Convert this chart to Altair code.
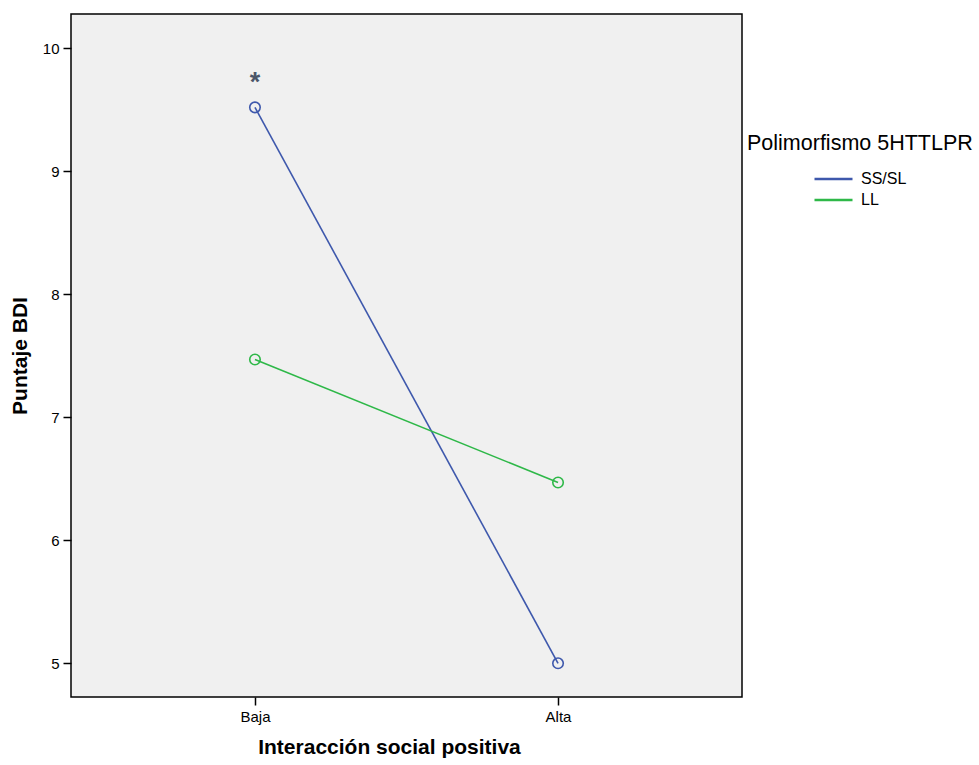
import altair as alt
import pandas as pd

levels = ["Baja", "Alta"]
groups = ["SS/SL", "LL"]
ss_values = [9.52, 5.00]
ll_values = [7.47, 6.47]
star_level = ["Baja"]
star_value = [9.77]
y_ticks = [5, 6, 7, 8, 9, 10]
colors = ["#3E58AC", "#2EB848"]

rows = []
for g, vals in zip(groups, [ss_values, ll_values]):
    for lv, v in zip(levels, vals):
        rows.append({"nivel": lv, "grupo": g, "bdi": v})
df = pd.DataFrame(rows)
star_df = pd.DataFrame({"nivel": star_level, "bdi": star_value, "txt": ["*"]})

FONT = "Liberation Sans"

x = alt.X("nivel:N", sort=levels,
          scale=alt.Scale(type="point", padding=0.607),
          axis=alt.Axis(title="Interacción social positiva", labelAngle=0,
                        labelFontSize=15, labelFont=FONT, labelColor="black",
                        titleFontSize=21, titleFont=FONT, titleFontWeight="bold",
                        titleColor="black", tickColor="black", tickSize=8,
                        tickWidth=1.5, domain=False, labelPadding=4,
                        titlePadding=12, titleX=318, titleAlign="center",
                        grid=False))
y = alt.Y("bdi:Q", scale=alt.Scale(domain=[4.726, 10.279], nice=False, zero=False),
          axis=alt.Axis(title="Puntaje BDI", values=y_ticks, format="d",
                        labelFontSize=15, labelFont=FONT, labelColor="black",
                        titleFontSize=21, titleFont=FONT, titleFontWeight="bold",
                        titleColor="black", tickColor="black", tickSize=8,
                        tickWidth=1.5, domain=False, labelPadding=4,
                        titlePadding=12, grid=False))
color = alt.Color("grupo:N", sort=groups,
                  scale=alt.Scale(domain=groups, range=colors),
                  legend=alt.Legend(title=None, orient="none", legendX=742, legendY=154,
                                    symbolType="M-1,0H3", symbolSize=361,
                                    symbolStrokeWidth=2.5, labelFontSize=16,
                                    labelFont=FONT, labelColor="black",
                                    labelOffset=26, rowPadding=2))

lines = alt.Chart(df).mark_line(strokeWidth=1.6).encode(x=x, y=y, color=color)
points = alt.Chart(df).mark_point(filled=False, size=110, strokeWidth=1.6, opacity=1).encode(
    x=x, y=y, color=alt.Color("grupo:N", sort=groups,
                              scale=alt.Scale(domain=groups, range=colors), legend=None))
star = alt.Chart(star_df).mark_text(fontSize=27, font=FONT, fontWeight="bold",
                                    color="#4A5568", baseline="middle", dy=6).encode(
    x=x, y=y, text="txt:N")

chart = alt.layer(lines, points, star).properties(
    width=671, height=683,
    autosize=alt.AutoSizeParams(type="none"),
    padding={"left": 71, "top": 14, "right": 237, "bottom": 68},
    title=alt.TitleParams("Polimorfismo 5HTTLPR", anchor="start", dx=676, dy=144,
                          fontSize=21.5, fontWeight="normal", font=FONT, color="black",
                          orient="top", frame="group"),
).configure_view(fill="#F0F0F0", stroke="black", strokeWidth=1.5)

chart.save("out.html", embed_options={"renderer": "svg", "actions": False})
